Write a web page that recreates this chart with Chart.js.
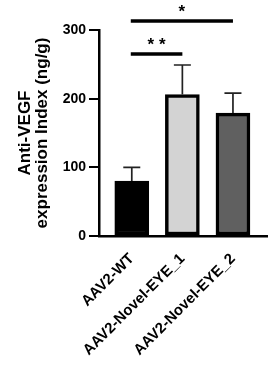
<!DOCTYPE html>
<html>
<head>
<meta charset="utf-8">
<script src="https://cdn.jsdelivr.net/npm/chart.js@4/dist/chart.umd.min.js"></script>
<style>
html,body{margin:0;padding:0;background:#fff;}
#wrap{width:275px;height:367px;position:relative;}
</style>
</head>
<body>
<div id="wrap"><canvas id="c"></canvas></div>
<script>
const categories = ['AAV2-WT', 'AAV2-Novel-EYE_1', 'AAV2-Novel-EYE_2'];
const means = [80, 206, 179];
const errors = [20, 43, 29];
const yTicks = [0, 100, 200, 300];
const sigFrom = [0, 0];
const sigTo = [1, 2];
const sigLevel = [265, 313];
const sigLabels = ['**', '*'];

const barFills = ['#000000', '#d3d3d3', '#606060'];
const FONT = '"Liberation Sans", Arial, sans-serif';

const annot = {
  id: 'annot',
  afterDatasetsDraw(chart) {
    const ctx = chart.ctx, x = chart.scales.x, y = chart.scales.y;
    ctx.save();
    ctx.strokeStyle = '#222';
    ctx.lineWidth = 1.7;
    means.forEach((m, i) => {
      const px = x.getPixelForValue(i);
      const top = y.getPixelForValue(m + errors[i]);
      const base = y.getPixelForValue(m);
      ctx.beginPath();
      ctx.moveTo(px, base);
      ctx.lineTo(px, top);
      ctx.moveTo(px - 8.5, top);
      ctx.lineTo(px + 8.5, top);
      ctx.stroke();
    });
    ctx.restore();
  },
  afterDraw(chart) {
    const ctx = chart.ctx, x = chart.scales.x, y = chart.scales.y;
    ctx.save();
    ctx.strokeStyle = '#000';
    ctx.fillStyle = '#000';
    ctx.lineWidth = 3.5;
    ctx.font = 'bold 17px ' + FONT;
    ctx.textAlign = 'center';
    ctx.textBaseline = 'middle';
    sigLevel.forEach((lv, i) => {
      const x1 = x.getPixelForValue(sigFrom[i]) - 1;
      const x2 = x.getPixelForValue(sigTo[i]);
      const py = y.getPixelForValue(lv);
      ctx.beginPath();
      ctx.moveTo(x1, py);
      ctx.lineTo(x2, py);
      ctx.stroke();
      ctx.fillText(sigLabels[i].split('').join(' '), (x1 + x2) / 2, py - 9);
    });
    ctx.restore();
  }
};

new Chart(document.getElementById('c'), {
  type: 'bar',
  data: {
    datasets: [{
      data: means.map((m, i) => ({x: i, y: m})),
      backgroundColor: barFills,
      borderColor: '#000',
      borderWidth: 3.5,
      borderSkipped: false,
      barThickness: 34
    }]
  },
  options: {
    responsive: true,
    maintainAspectRatio: false,
    animation: false,
    layout: {padding: {left: 16, right: 8, top: 30, bottom: 0}},
    plugins: {legend: {display: false}, tooltip: {enabled: false}},
    scales: {
      x: {
        type: 'linear',
        offset: false,
        min: -0.648,
        max: 2.673,
        grid: {display: false, drawTicks: false, offset: false},
        border: {display: true, color: '#000', width: 2.5},
        afterBuildTicks: s => { s.ticks = categories.map((_, i) => ({value: i})); },
        afterFit: s => { s.height = 131; },
        ticks: {
          autoSkip: false,
          minRotation: 45,
          maxRotation: 45,
          padding: 14,
          color: '#000',
          font: {family: FONT, size: 15, weight: 'bold'},
          callback: v => categories[v]
        }
      },
      y: {
        min: 0,
        max: 300,
        afterBuildTicks: s => { s.ticks = yTicks.map(v => ({value: v})); },
        afterFit: s => { s.width = 83; },
        grid: {display: true, drawOnChartArea: false, drawTicks: true, tickLength: 10, color: '#000', lineWidth: 2},
        border: {display: true, color: '#000', width: 2.5},
        ticks: {
          padding: 3,
          color: '#000',
          font: {family: FONT, size: 14, weight: 'bold'}
        },
        title: {
          display: true,
          text: ['Anti-VEGF', 'expression Index (ng/g)'],
          color: '#000',
          padding: {top: 0, bottom: 0},
          font: {family: FONT, size: 17, weight: 'bold', lineHeight: 1.05}
        }
      }
    }
  },
  plugins: [annot]
});
</script>
</body>
</html>
